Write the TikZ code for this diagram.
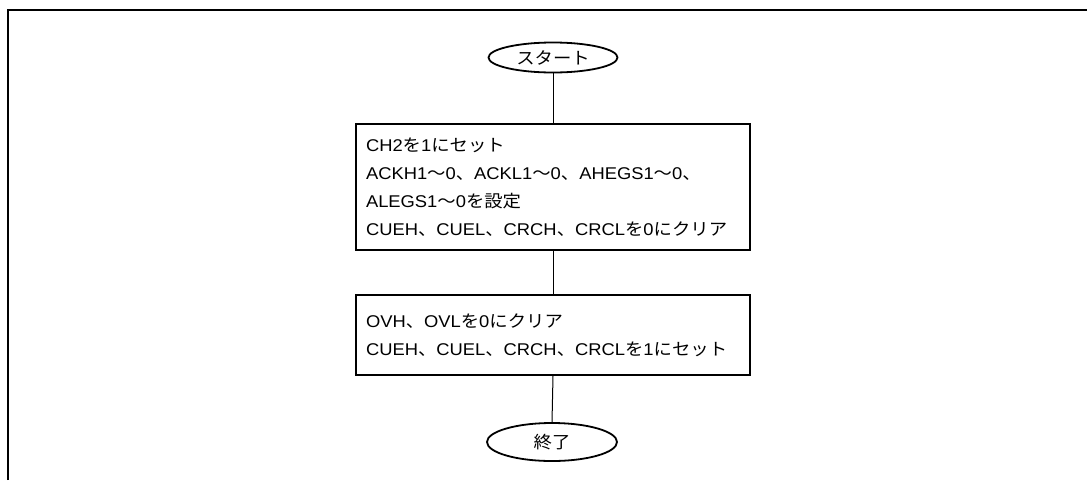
\documentclass[tikz,border=0pt]{standalone}
\usepackage{fontspec}
\setmainfont{Liberation Sans}[FakeStretch=1.08]
\newfontfamily\jp{Noto Sans CJK JP}[FakeStretch=1.08]
\usetikzlibrary{shapes.geometric}
\tikzset{
  frameline/.style={line width=2pt},
  terminal/.style={draw, ellipse, line width=1.8pt, minimum width=129pt, minimum height=30pt, inner sep=0pt, font=\fontsize{17}{20}\selectfont},
  procbox/.style={draw, line width=1.8pt, minimum width=394pt, text width=374pt, align=left, inner xsep=10pt, inner ysep=0pt, font=\fontsize{17}{28}\selectfont},
  conn/.style={line width=1pt}
}
\begin{document}
\begin{tikzpicture}[x=1pt,y=-1pt]
\useasboundingbox (0,0) rectangle (1087,480);
\fill[white] (0,0) rectangle (1087,480);
\draw[frameline] (8,480) -- (8,10) -- (1087,10);
\node[terminal] (s) at (553,57.5) {{\jp スタート}};
\node[procbox, minimum height=126pt] (b1) at (553,187) {CH2{\jp を}1{\jp にセット}\\
ACKH1{\jp ～}0{\jp 、}ACKL1{\jp ～}0{\jp 、}AHEGS1{\jp ～}0{\jp 、}\\
ALEGS1{\jp ～}0{\jp を設定}\\
CUEH{\jp 、}CUEL{\jp 、}CRCH{\jp 、}CRCL{\jp を}0{\jp にクリア}};
\node[procbox, minimum height=80pt] (b2) at (553,335) {OVH{\jp 、}OVL{\jp を}0{\jp にクリア}\\
CUEH{\jp 、}CUEL{\jp 、}CRCH{\jp 、}CRCL{\jp を}1{\jp にセット}};
\node[terminal, minimum width=130pt, minimum height=38pt] (e) at (552,442) {{\jp 終了}};
\draw[conn] (s.south) -- (b1.north);
\draw[conn] (b1.south) -- (b2.north);
\draw[conn] (b2.south) -- (e.north);
\end{tikzpicture}
\end{document}
